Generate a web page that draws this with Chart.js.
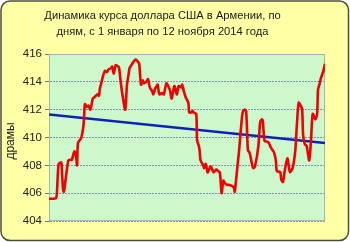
<!DOCTYPE html>
<html>
<head>
<meta charset="utf-8">
<script src="https://cdn.jsdelivr.net/npm/chart.js@4/dist/chart.umd.min.js"></script>
<style>
  html, body { margin: 0; padding: 0; background: #fff; }
</style>
</head>
<body>
<canvas id="chart" width="350" height="242"></canvas>
<script>
// chart data
var titleLines = ["Динамика курса доллара США в Армении, по", "дням, с 1 января по 12 ноября 2014 года"];
var yLabel = "драмы";
var yTicks = [404, 406, 408, 410, 412, 414, 416];

// day of year (1 = 1 January, 316 = 12 November)
var days = [1, 4, 9, 10, 12, 15, 16, 17, 18, 20, 23, 25, 27, 30, 32, 33, 34, 36, 38, 40,
  41, 42, 44, 46, 48, 50, 51, 53, 56, 58, 59, 61, 63, 65, 67, 69, 72, 73, 75, 77,
  80, 81, 83, 85, 88, 90, 92, 93, 96, 98, 100, 103, 104, 106, 108, 109, 112, 114, 116, 119,
  120, 122, 124, 125, 127, 130, 132, 135, 137, 139, 141, 144, 146, 147, 149, 152, 153, 155, 157, 160,
  161, 163, 165, 166, 169, 170, 172, 173, 174, 177, 178, 180, 182, 185, 186, 188, 189, 192, 194, 196,
  198, 200, 202, 204, 206, 210, 212, 213, 216, 218, 220, 222, 224, 226, 228, 230, 233, 234, 236, 240,
  242, 244, 245, 247, 250, 252, 254, 256, 258, 260, 261, 265, 266, 268, 270, 273, 275, 276, 279, 282,
  284, 286, 289, 290, 291, 293, 295, 298, 300, 302, 305, 307, 308, 310, 311, 314, 316];

// AMD per USD
var rates = [405.6, 405.6, 405.65, 406.0, 408.1, 408.2, 407.3, 406.3, 406.1, 407.0, 408.35, 408.4, 408.4, 409.0, 408.6, 408.0, 409.6, 409.8, 410.0, 410.7,
  411.4, 412.4, 412.2, 412.3, 412.0, 412.5, 412.8, 412.9, 413.1, 413.0, 413.5, 414.0, 414.5, 414.8, 414.7, 414.9, 415.0, 415.1, 414.6, 415.2,
  415.1, 415.0, 413.9, 413.0, 412.0, 413.8, 414.6, 415.0, 415.3, 415.5, 415.6, 415.4, 415.3, 413.8, 414.1, 413.9, 414.0, 414.2, 413.6, 413.3,
  413.1, 413.5, 413.7, 413.8, 413.1, 413.2, 413.1, 413.9, 413.7, 413.4, 412.8, 413.7, 413.3, 413.1, 413.7, 413.6, 413.8, 413.3, 412.9, 412.5,
  411.8, 411.8, 411.9, 411.8, 411.7, 409.8, 409.4, 409.0, 408.35, 408.0, 407.8, 408.1, 407.5, 407.9, 407.9, 407.6, 407.5, 407.7, 407.6, 407.5,
  406.0, 406.9, 406.7, 406.6, 406.6, 406.5, 406.4, 406.1, 407.9, 409.1, 410.6, 411.8, 412.0, 411.9, 409.1, 408.9, 408.0, 407.8, 407.9, 409.4,
  411.1, 411.3, 411.2, 409.75, 409.7, 409.6, 409.3, 409.1, 408.9, 408.3, 407.6, 407.5, 407.0, 406.8, 407.6, 408.5, 407.8, 407.5, 407.8, 409.0,
  411.0, 412.5, 412.2, 412.0, 410.2, 409.5, 409.4, 408.35, 409.8, 411.7, 411.3, 411.7, 413.4, 413.9, 414.2, 414.75, 415.3];

// linear trend, start and end
var trendDays = [1, 316];
var trendRates = [411.65, 409.6];

var framePlugin = {
  id: "frame",
  beforeDraw: function (chart) {
    var ctx = chart.ctx;
    var a = chart.chartArea;
    ctx.save();
    // yellow rounded panel
    ctx.beginPath();
    ctx.roundRect(1, 1, chart.width - 2.5, chart.height - 2.5, 9);
    ctx.fillStyle = "#FFFFA6";
    ctx.fill();
    ctx.lineWidth = 1.5;
    ctx.strokeStyle = "#4D4D3D";
    ctx.stroke();
    // green plot area
    ctx.fillStyle = "#CDF8CB";
    ctx.fillRect(a.left, a.top, a.right - a.left, a.bottom - a.top);
    // axis title, rotated
    ctx.translate(11, 141);
    ctx.rotate(-Math.PI / 2);
    ctx.fillStyle = "#222";
    ctx.font = "12px 'Liberation Sans'";
    ctx.textAlign = "center";
    ctx.textBaseline = "middle";
    ctx.fillText(yLabel, 0, 0);
    ctx.restore();
  },
  beforeDatasetsDraw: function (chart) {
    var ctx = chart.ctx;
    var a = chart.chartArea;
    ctx.save();
    ctx.strokeStyle = "#A8B4B0";
    ctx.lineWidth = 1;
    ctx.strokeRect(a.left + 0.5, a.top + 0.5, a.right - a.left - 1, a.bottom - a.top - 1);
    ctx.restore();
  }
};

var ratePoints = [];
for (var i = 0; i < days.length; i++) {
  ratePoints.push({ x: days[i], y: rates[i] });
}
var trendPoints = [];
for (var j = 0; j < trendDays.length; j++) {
  trendPoints.push({ x: trendDays[j], y: trendRates[j] });
}

var chart = new Chart(document.getElementById("chart"), {
  type: "line",
  data: {
    datasets: [{
      label: "Курс",
      data: ratePoints,
      borderColor: "#F00000",
      borderWidth: 2.6,
      pointRadius: 0,
      tension: 0.25,
      fill: false
    }, {
      label: "Тренд",
      data: trendPoints,
      borderColor: "#1020B8",
      borderWidth: 2.6,
      pointRadius: 0,
      fill: false
    }]
  },
  options: {
    responsive: false,
    devicePixelRatio: 1,
    animation: false,
    layout: { padding: { left: 0, right: 25, top: 0, bottom: 21 } },
    plugins: {
      legend: { display: false },
      tooltip: { enabled: false },
      title: {
        display: true,
        text: titleLines,
        color: "#1a1a1a",
        font: { family: "Liberation Sans", size: 11.2, weight: "normal", lineHeight: 1.43 },
        padding: { top: 8, bottom: 14 }
      }
    },
    scales: {
      x: {
        type: "linear",
        min: 1,
        max: 316,
        display: false
      },
      y: {
        min: yTicks[0],
        max: yTicks[yTicks.length - 1],
        afterBuildTicks: function (scale) {
          scale.ticks = yTicks.map(function (v) { return { value: v }; });
        },
        afterFit: function (scale) { scale.width = 49; },
        ticks: {
          color: "#222",
          padding: 3,
          font: { family: "Liberation Sans", size: 11.5 }
        },
        grid: {
          color: "#8196AC",
          tickLength: 4,
          tickColor: "#777",
          tickBorderDash: []
        },
        border: { display: true, color: "#888", dash: [2, 1] },
        title: { display: false }
      }
    }
  },
  plugins: [framePlugin]
});
</script>
</body>
</html>
